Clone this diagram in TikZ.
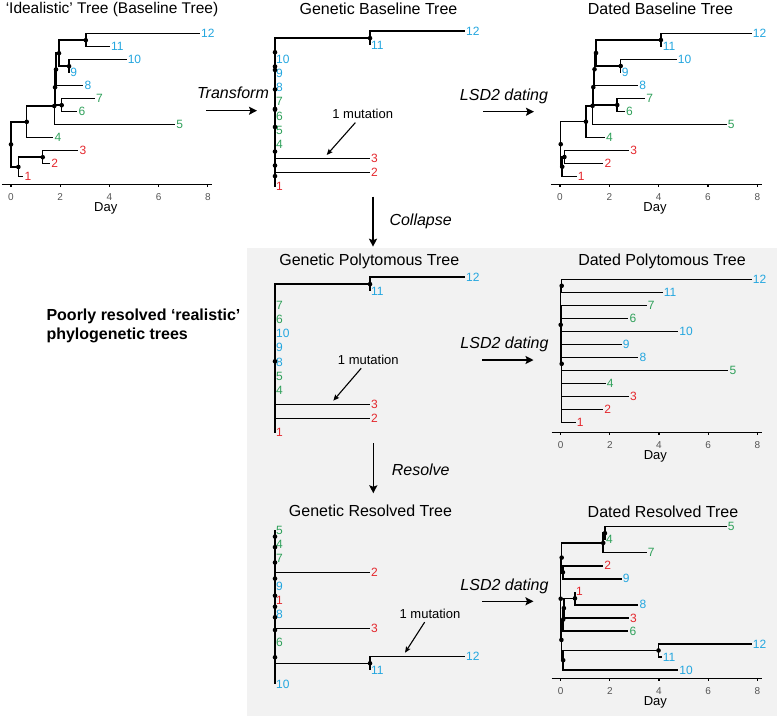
\documentclass[tikz,border=0pt]{standalone}
\usepackage{fontspec}
\setmainfont{Liberation Sans}
\usepackage{xcolor}
\definecolor{tipred}{HTML}{E4262C}
\definecolor{tipgreen}{HTML}{2FA05A}
\definecolor{tipblue}{HTML}{23A6DF}
\definecolor{panel}{HTML}{F2F2F2}
\definecolor{ticktext}{HTML}{555555}
\usetikzlibrary{arrows.meta}

\tikzset{
  branch/.style={line width=1.5pt},
  leaf/.style={anchor=west, inner sep=1pt, font=\fontsize{12}{14}\selectfont},
  treetitle/.style={anchor=base, font=\fontsize{16}{18}\selectfont},
  steplabel/.style={anchor=base, font=\fontsize{16}{18}\selectfont\itshape},
  bigarrow/.style={-{Stealth[length=8pt,width=8pt,inset=1.5pt]}, line width=1.4pt},
  mutarrow/.style={-{Stealth[length=6pt,width=5pt,inset=1pt]}, line width=1.1pt},
  mutlabel/.style={font=\fontsize{13}{15}\selectfont},
  axisline/.style={line width=1.2pt},
  ticklabel/.style={font=\fontsize{10}{12}\selectfont, text=ticktext},
  daylabel/.style={font=\fontsize{13}{15}\selectfont},
}

% time axis below a dated tree, #1 = offset below the lowest tip
\newcommand{\dayaxis}[1]{%
  \draw[axisline] (-0.37,#1) -- (8.17,#1);
  \foreach \d in {0,2,4,6,8}{
    \draw[axisline] (\d,#1) -- ++(0pt,-3pt);
    \node[ticklabel, yshift=-12.4pt] (tick\d) at (\d,#1) {\d};
  }
  \node[daylabel, yshift=-24.4pt] (day) at (3.85,#1) {Day};
}

% shared topology of the baseline trees
\newcommand{\baseedges}{root/n4, root/n123, n123/t1, n123/n23, n23/t2, n23/t3,
  n4/t4, n4/na, na/t5, na/nb, nb/n67, nb/nc, n67/t6, n67/t7, nc/t8, nc/nd,
  nd/n910, nd/n1112, n910/t9, n910/t10, n1112/t11, n1112/t12}
\newcommand{\baseknots}{root, n123, n23, n4, na, nb, nc, nd, n67, n910, n1112}

\begin{document}
\begin{tikzpicture}[x=1pt, y=-1pt]
\useasboundingbox (0,0) rectangle (777,716);
\fill[panel] (247,248) rectangle (777,716);

% titles
\node[treetitle, font=\fontsize{15.5}{18}\selectfont] (ideal-title) at (112,13.5) {‘Idealistic’ Tree (Baseline Tree)};
\node[treetitle] (gbase-title) at (378.5,14) {Genetic Baseline Tree};
\node[treetitle] (dbase-title) at (660.5,14) {Dated Baseline Tree};
\node[treetitle] (gpoly-title) at (369.3,265) {Genetic Polytomous Tree};
\node[treetitle] (dpoly-title) at (662,265) {Dated Polytomous Tree};
\node[treetitle] (gres-title) at (370.5,516.7) {Genetic Resolved Tree};
\node[treetitle] (dres-title) at (663,517.3) {Dated Resolved Tree};

\node[anchor=west, align=left, font=\bfseries\fontsize{16}{19}\selectfont] (realistic)
  at (43,325.5) {Poorly resolved ‘realistic’\\phylogenetic trees};

% idealistic tree
\begin{scope}[shift={(11pt,-176.7pt)}, x=24.6pt, y=13pt, name prefix=ideal-]
  \foreach \lbl/\tm/\row/\col in {1/0.5/0/tipred, 2/1.59/1/tipred, 3/2.74/2/tipred,
      4/1.72/3/tipgreen, 5/6.67/4/tipgreen, 6/2.70/5/tipgreen, 7/3.41/6/tipgreen,
      8/2.94/7/tipblue, 9/2.36/8/tipblue, 10/4.70/9/tipblue, 11/4.02/10/tipblue, 12/7.68/11/tipblue}
    \node[leaf, text=\col] (t\lbl) at (\tm,\row) {\lbl};
  \foreach \lbl/\tm/\row in {root/0/2.484, n123/0.30/0.75, n23/1.29/1.5, n4/0.64/4.219,
      na/1.76/5.438, nb/1.79/6.875, nc/1.83/8.25, nd/1.95/9.5, n67/2.06/5.5,
      n910/2.36/8.5, n1112/3.04/10.5}
    \coordinate (\lbl) at (\tm,\row);
  \foreach \pa/\ch in \baseedges
    \draw[branch] (\pa) |- (\ch);
  \foreach \lbl in \baseknots
    \fill (\lbl) circle[radius=2.3pt];
  \dayaxis{-7.6pt}
\end{scope}

% genetic baseline tree
\begin{scope}[shift={(275pt,-186.7pt)}, x=95pt, y=14.15pt, name prefix=gbase-]
  \foreach \lbl/\tm/\row/\col in {1/0/0/tipred, 2/1/1/tipred, 3/1/2/tipred,
      4/0/3/tipgreen, 5/0/4/tipgreen, 6/0/5/tipgreen, 7/0/6/tipgreen,
      8/0/7/tipblue, 9/0/8/tipblue, 10/0/9/tipblue, 11/1/10/tipblue, 12/2/11/tipblue}
    \node[leaf, text=\col] (t\lbl) at (\tm,\row) {\lbl};
  \foreach \lbl/\tm/\row in {root/0/2.484, n123/0/0.75, n23/0/1.5, n4/0/4.219,
      na/0/5.438, nb/0/6.875, nc/0/8.25, nd/0/9.5, n67/0/5.5,
      n910/0/8.5, n1112/1/10.5}
    \coordinate (\lbl) at (\tm,\row);
  \foreach \pa/\ch in \baseedges
    \draw[branch] (\pa) |- (\ch);
  \foreach \lbl in \baseknots
    \fill (\lbl) circle[radius=2.3pt];
\end{scope}

% dated baseline tree
\begin{scope}[shift={(560pt,-176.5pt)}, x=24.67pt, y=13pt, name prefix=dbase-]
  \foreach \lbl/\tm/\row/\col in {1/0.68/0/tipred, 2/1.76/1/tipred, 3/2.80/2/tipred,
      4/1.82/3/tipgreen, 5/6.76/4/tipgreen, 6/2.63/5/tipgreen, 7/3.45/6/tipgreen,
      8/3.17/7/tipblue, 9/2.46/8/tipblue, 10/4.73/9/tipblue, 11/4.12/10/tipblue, 12/7.77/11/tipblue}
    \node[leaf, text=\col] (t\lbl) at (\tm,\row) {\lbl};
  \foreach \lbl/\tm/\row in {root/0.03/2.484, n123/0.09/0.75, n23/0.18/1.5, n4/1.05/4.219,
      na/1.32/5.438, nb/1.35/6.875, nc/1.40/8.25, nd/1.46/9.5, n67/2.32/5.5,
      n910/2.46/8.5, n1112/4.09/10.5}
    \coordinate (\lbl) at (\tm,\row);
  \foreach \pa/\ch in \baseedges
    \draw[branch] (\pa) |- (\ch);
  \foreach \lbl in \baseknots
    \fill (\lbl) circle[radius=2.3pt];
  \dayaxis{-7.8pt}
\end{scope}

% genetic polytomous tree
\begin{scope}[shift={(275pt,-432.7pt)}, x=95pt, y=14.15pt, name prefix=gpoly-]
  \foreach \lbl/\tm/\row/\col in {1/0/0/tipred, 2/1/1/tipred, 3/1/2/tipred,
      4/0/3/tipgreen, 5/0/4/tipgreen, 8/0/5/tipblue, 9/0/6/tipblue, 10/0/7/tipblue,
      6/0/8/tipgreen, 7/0/9/tipgreen, 11/1/10/tipblue, 12/2/11/tipblue}
    \node[leaf, text=\col] (t\lbl) at (\tm,\row) {\lbl};
  \coordinate (root) at (0,5.045);
  \coordinate (n1112) at (1,10.5);
  \foreach \pa/\ch in {root/t1, root/t2, root/t3, root/t4, root/t5, root/t8, root/t9,
      root/t10, root/t6, root/t7, root/n1112, n1112/t11, n1112/t12}
    \draw[branch] (\pa) |- (\ch);
  \foreach \lbl in {root, n1112}
    \fill (\lbl) circle[radius=2.3pt];
\end{scope}

% dated polytomous tree
\begin{scope}[shift={(560.7pt,-422.3pt)}, x=24.58pt, y=13pt, name prefix=dpoly-]
  \foreach \lbl/\tm/\row/\col in {1/0.61/0/tipred, 2/1.73/1/tipred, 3/2.78/2/tipred,
      4/1.83/3/tipgreen, 5/6.82/4/tipgreen, 8/3.16/5/tipblue, 9/2.48/6/tipblue,
      10/4.78/7/tipblue, 6/2.75/8/tipgreen, 7/3.50/9/tipgreen, 11/4.15/10/tipblue, 12/7.77/11/tipblue}
    \node[leaf, text=\col] (t\lbl) at (\tm,\row) {\lbl};
  \coordinate (root) at (0,7.5);
  \coordinate (nc) at (0.04,4.5);
  \coordinate (n1112) at (0.04,10.5);
  \foreach \pa/\ch in {root/nc, root/n1112, nc/t1, nc/t2, nc/t3, nc/t4, nc/t5, nc/t8,
      nc/t9, nc/t10, nc/t6, nc/t7, n1112/t11, n1112/t12}
    \draw[branch] (\pa) |- (\ch);
  \foreach \lbl in {root, nc, n1112}
    \fill (\lbl) circle[radius=2.3pt];
  \dayaxis{-10pt}
\end{scope}

% genetic resolved tree
\begin{scope}[shift={(275pt,-684.3pt)}, x=95pt, y=14pt, name prefix=gres-]
  \foreach \lbl/\tm/\row/\col in {10/0/0/tipblue, 11/1/1/tipblue, 12/2/2/tipblue,
      6/0/3/tipgreen, 3/1/4/tipred, 8/0/5/tipblue, 1/0/6/tipred, 9/0/7/tipblue,
      2/1/8/tipred, 7/0/9/tipgreen, 4/0/10/tipgreen, 5/0/11/tipgreen}
    \node[leaf, text=\col] (t\lbl) at (\tm,\row) {\lbl};
  \foreach \lbl/\tm/\row in {p1/0/10.55, p2/0/9.8, p3/0/8.7, p29/0/7.55, root/0/6.33,
      q18/0/5.54, r3/0/4.79, r6/0/3.88, tt/0/1.93, n1112/1/1.5}
    \coordinate (\lbl) at (\tm,\row);
  \foreach \pa/\ch in {root/p3, root/tt, p3/p2, p3/p29, p2/p1, p2/t7, p1/t5, p1/t4,
      p29/t2, p29/t9, tt/r6, tt/n1112, tt/t10, r6/r3, r6/t6, r3/q18, r3/t3,
      q18/t1, q18/t8, n1112/t11, n1112/t12}
    \draw[branch] (\pa) |- (\ch);
  \foreach \lbl in {p1, p2, p3, p29, root, q18, r3, r6, tt, n1112}
    \fill (\lbl) circle[radius=2.3pt];
\end{scope}

% dated resolved tree
\begin{scope}[shift={(560.7pt,-670pt)}, x=24.58pt, y=13.03pt, name prefix=dres-]
  \foreach \lbl/\tm/\row/\col in {10/4.78/0/tipblue, 11/4.11/1/tipblue, 12/7.77/2/tipblue,
      6/2.75/3/tipgreen, 3/2.78/4/tipred, 8/3.16/5/tipblue, 1/0.58/6/tipred,
      9/2.48/7/tipblue, 2/1.73/8/tipred, 7/3.50/9/tipgreen, 4/1.80/10/tipgreen, 5/6.75/11/tipgreen}
    \node[leaf, text=\col] (t\lbl) at (\tm,\row) {\lbl};
  \foreach \lbl/\tm/\row in {root/0/5.47, p3/0.04/8.625, p2/1.73/9.75, p1/1.80/10.5,
      p29/0.09/7.5, tt/0.03/2.31, r6/0.10/3.875, r3/0.13/4.75, q18/0.58/5.5,
      s/0.10/0.75, n1112/3.98/1.5}
    \coordinate (\lbl) at (\tm,\row);
  \foreach \pa/\ch in {root/p3, root/tt, p3/p2, p3/p29, p2/p1, p2/t7, p1/t5, p1/t4,
      p29/t2, p29/t9, tt/r6, tt/s, r6/r3, r6/t6, r3/q18, r3/t3, q18/t1, q18/t8,
      s/n1112, s/t10, n1112/t11, n1112/t12}
    \draw[branch] (\pa) |- (\ch);
  \foreach \lbl in {root, p3, p2, p1, p29, tt, r6, r3, q18, s, n1112}
    \fill (\lbl) circle[radius=2.3pt];
  \dayaxis{-8.3pt}
\end{scope}

% steps between the trees
\coordinate (transform-from) at (206,110.7);
\coordinate (transform-to) at (257,110.7);
\draw[bigarrow] (transform-from) -- (transform-to);
\node[steplabel] (transform) at (233,98.3) {Transform};

\coordinate (datebase-from) at (483,111.7);
\coordinate (datebase-to) at (534,111.7);
\draw[bigarrow] (datebase-from) -- (datebase-to);
\node[steplabel] (datebase) at (504,100) {LSD2 dating};

\coordinate (collapse-from) at (373,196.7);
\coordinate (collapse-to) at (373,246.7);
\draw[bigarrow] (collapse-from) -- (collapse-to);
\node[steplabel, anchor=base west] (collapse) at (386,225) {Collapse};

\coordinate (datepoly-from) at (482,360);
\coordinate (datepoly-to) at (533.5,360);
\draw[bigarrow] (datepoly-from) -- (datepoly-to);
\node[steplabel] (datepoly) at (504.5,348.3) {LSD2 dating};

\coordinate (resolve-from) at (373.3,443.3);
\coordinate (resolve-to) at (373.3,493.3);
\draw[bigarrow] (resolve-from) -- (resolve-to);
\node[steplabel, anchor=base west] (resolve) at (388.3,475) {Resolve};

\coordinate (dateres-from) at (482,601.3);
\coordinate (dateres-to) at (533.5,601.3);
\draw[bigarrow] (dateres-from) -- (dateres-to);
\node[steplabel] (dateres) at (504.5,590.7) {LSD2 dating};

% one mutation pointers
\node[mutlabel] (gbase-mut) at (362.7,114.3) {1 mutation};
\coordinate (gbase-mutpoint) at (326.7,155);
\draw[mutarrow] (gbase-mut) -- (gbase-mutpoint);

\node[mutlabel] (gpoly-mut) at (368.3,360) {1 mutation};
\coordinate (gpoly-mutpoint) at (333.3,400.7);
\draw[mutarrow] (gpoly-mut) -- (gpoly-mutpoint);

\node[mutlabel] (gres-mut) at (430,613.8) {1 mutation};
\coordinate (gres-mutpoint) at (405,652.7);
\draw[mutarrow] (gres-mut) -- (gres-mutpoint);
\end{tikzpicture}
\end{document}
